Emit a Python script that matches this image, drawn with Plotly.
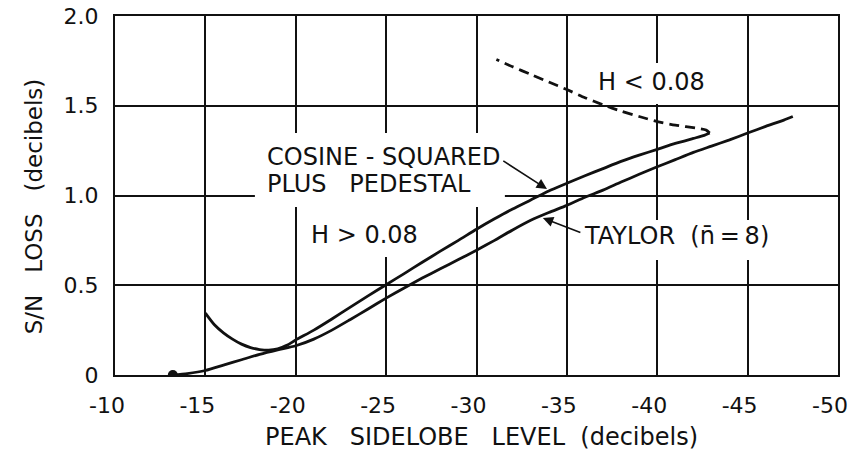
import plotly.graph_objects as go

# Data
x_ticks = [-10, -15, -20, -25, -30, -35, -40, -45, -50]
x_tick_labels = ["-10", "-15", "-20", "-25", "-30", "-35", "-40", "-45", "-50"]
y_ticks = [0, 0.5, 1.0, 1.5, 2.0]
y_tick_labels = ["0", "0.5", "1.0", "1.5", "2.0"]

cos_x = [-15, -15.5, -16, -16.5, -17, -17.5, -18, -18.5, -19, -19.5, -20, -21, -22, -23, -24,
         -25, -26, -27, -28, -29, -30, -31, -32, -33, -34, -35, -36, -37, -38, -39, -40,
         -41, -42, -42.6, -42.9]
cos_y = [0.345, 0.28, 0.235, 0.2, 0.172, 0.153, 0.142, 0.138, 0.145, 0.165, 0.195, 0.25, 0.312,
         0.377, 0.441, 0.503, 0.565, 0.628, 0.69, 0.75, 0.812, 0.87, 0.925, 0.975, 1.025, 1.068,
         1.11, 1.15, 1.19, 1.225, 1.257, 1.29, 1.318, 1.335, 1.348]

dash_x = [-42.9, -42.7, -42.2, -41, -40, -39, -38, -37, -36, -35, -34, -33, -32, -31.1]
dash_y = [1.348, 1.365, 1.375, 1.392, 1.412, 1.44, 1.47, 1.505, 1.545, 1.59, 1.632, 1.675,
          1.717, 1.758]

taylor_x = [-13.2, -14, -15, -16, -17, -18, -19, -20, -21, -22, -23, -24, -25, -26, -27, -28,
            -29, -30, -31, -32, -33, -34, -35, -36, -37, -38, -39, -40, -41, -42, -43, -44,
            -45, -46, -47, -47.5]
taylor_y = [0.0, 0.008, 0.025, 0.055, 0.085, 0.115, 0.14, 0.163, 0.2, 0.25, 0.308, 0.368, 0.428,
            0.485, 0.54, 0.592, 0.643, 0.695, 0.75, 0.808, 0.862, 0.905, 0.945, 0.99, 1.03, 1.075,
            1.118, 1.16, 1.2, 1.24, 1.275, 1.31, 1.348, 1.385, 1.42, 1.44]

dot_x = [-13.2]
dot_y = [0.0]

FONT = "DejaVu Sans"
INK = "#111111"

fig = go.Figure()
fig.add_trace(go.Scatter(x=cos_x, y=cos_y, mode="lines",
                         line=dict(color=INK, width=2.8, shape="spline", smoothing=0.6),
                         showlegend=False))
fig.add_trace(go.Scatter(x=dash_x, y=dash_y, mode="lines",
                         line=dict(color=INK, width=2.8, dash="10px,6px", shape="spline",
                                   smoothing=0.6),
                         showlegend=False))
fig.add_trace(go.Scatter(x=taylor_x, y=taylor_y, mode="lines",
                         line=dict(color=INK, width=2.8, shape="spline", smoothing=0.6),
                         showlegend=False))
fig.add_trace(go.Scatter(x=dot_x, y=dot_y, mode="markers",
                         marker=dict(color=INK, size=10), showlegend=False))

# white patches where the grid is interrupted around the lettering
boxes = [(-17.74, -31.57, 0.936, 1.348), (-20.5, -27.15, 0.657, 0.936),
         (-36.27, -43.18, 1.51, 1.738), (-36.0, -46.2, 0.64, 0.863)]
for x0, x1, y0, y1 in boxes:
    fig.add_shape(type="rect", x0=x0, x1=x1, y0=y0, y1=y1, xref="x", yref="y",
                  fillcolor="white", line=dict(width=0), layer="between")

lab_font = dict(family=FONT, size=24, color=INK)
fig.add_annotation(x=-18.3, y=1.215, text="COSINE - SQUARED", showarrow=False,
                   xanchor="left", yanchor="middle", font=lab_font)
fig.add_annotation(x=-18.3, y=1.064, text="PLUS\u00a0\u00a0 PEDESTAL", showarrow=False,
                   xanchor="left", yanchor="middle", font=lab_font)
fig.add_annotation(x=-23.83, y=0.78, text="H > 0.08", showarrow=False, font=lab_font,
                   xanchor="center", yanchor="middle")
fig.add_annotation(x=-39.7, y=1.632, text="H < 0.08", showarrow=False, font=lab_font,
                   xanchor="center", yanchor="middle")
fig.add_annotation(x=-41.08, y=0.774, text="TAYLOR\u00a0 (n\u0304\u2009=\u20098)",
                   showarrow=False, font=lab_font, xanchor="center", yanchor="middle")

# arrows
fig.add_annotation(x=-33.9, y=1.036, ax=-31.4, ay=1.198, axref="x", ayref="y",
                   xref="x", yref="y", text="", showarrow=True, arrowhead=2,
                   arrowsize=1.3, arrowwidth=1.6, arrowcolor=INK)
fig.add_annotation(x=-33.67, y=0.875, ax=-35.83, ay=0.79, axref="x", ayref="y",
                   xref="x", yref="y", text="", showarrow=True, arrowhead=2,
                   arrowsize=1.3, arrowwidth=1.6, arrowcolor=INK)

# axis titles
fig.add_annotation(x=0.5076, y=-0.173, xref="paper", yref="paper",
                   xanchor="center", yanchor="middle",
                   text="PEAK\u00a0\u00a0 SIDELOBE\u00a0\u00a0 LEVEL\u00a0 (decibels)",
                   showarrow=False, font=dict(family=FONT, size=24, color=INK))
fig.add_annotation(x=-0.112, y=0.47, xref="paper", yref="paper",
                   xanchor="center", yanchor="middle",
                   text="S/N\u00a0\u00a0 LOSS\u00a0\u00a0 (decibels)", textangle=-90,
                   showarrow=False, font=dict(family=FONT, size=23, color=INK))

axis_common = dict(showgrid=True, gridcolor=INK, gridwidth=1.5, showline=True,
                   linecolor=INK, linewidth=2, mirror=True, zeroline=False, ticks="",
                   automargin=False, ticklabeloverflow="allow",
                   tickfont=dict(family=FONT, size=22, color=INK))
fig.update_xaxes(range=[-10, -50], tickvals=x_ticks, ticktext=x_tick_labels,
                 ticklabelstandoff=10, ticklabelshift=8, **axis_common)
fig.update_yaxes(range=[0, 2.0], tickvals=y_ticks, ticktext=y_tick_labels,
                 ticklabelstandoff=10, **axis_common)

# the page adds an 8px body margin, so the figure is sized to fit the window after it
fig.update_layout(width=851, height=445, autosize=False,
                  margin=dict(l=107, r=21, t=8, b=78, autoexpand=False),
                  plot_bgcolor="white", paper_bgcolor="white")

fig.write_html("out.html")
